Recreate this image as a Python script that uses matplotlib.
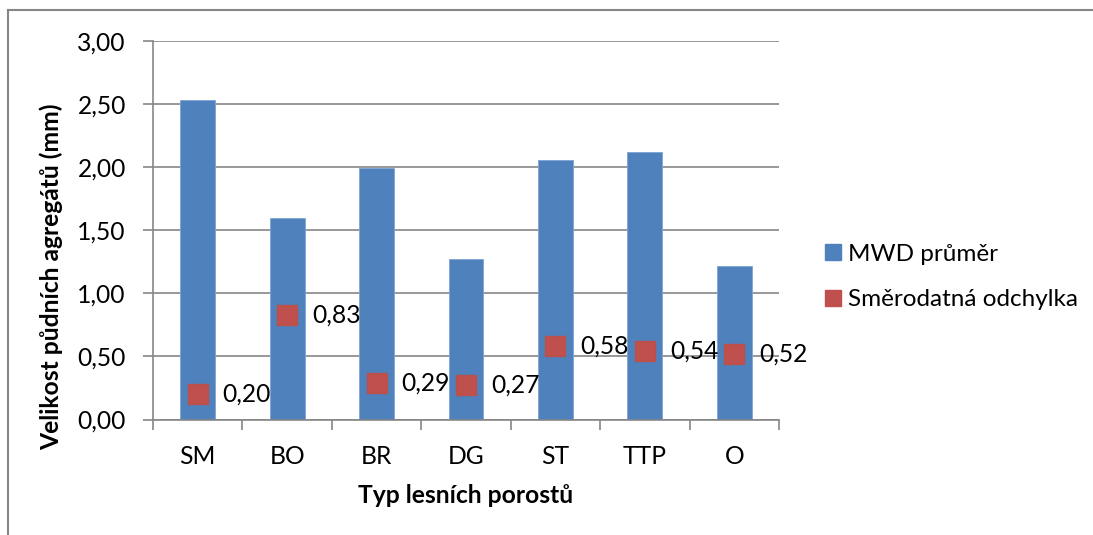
import matplotlib
matplotlib.use("Agg")
import matplotlib.pyplot as plt
from matplotlib.lines import Line2D

plt.rcParams['font.family'] = ['Lato', 'DejaVu Sans']

kategorie = ['SM', 'BO', 'BR', 'DG', 'ST', 'TTP', 'O']
mwd_prumer = [2.53, 1.60, 1.99, 1.27, 2.06, 2.12, 1.22]
smer_odchylka = [0.20, 0.83, 0.29, 0.27, 0.58, 0.54, 0.52]
yticky = [0.0, 0.5, 1.0, 1.5, 2.0, 2.5, 3.0]

modra = '#4F81BD'
cervena = '#C0504D'
seda = '#868686'
fs = 17.7

fig = plt.figure(figsize=(10.93, 5.35), dpi=100)
ax = fig.add_axes([153 / 1093, 1 - 419.5 / 535, 626 / 1093, 378.5 / 535])

x = list(range(len(kategorie)))
ax.bar(x, mwd_prumer, width=0.39, color=modra, edgecolor='#7FA3D3',
       linewidth=0.6, zorder=2, label='MWD průměr')
ax.plot(x, smer_odchylka, linestyle='none', marker='s', markersize=14.5,
        color=cervena, mec='#B8504C', zorder=3, label='Směrodatná odchylka')

# popisky hodnot vpravo od bodů
for xi, v in zip(x, smer_odchylka):
    ax.annotate(('%.2f' % v).replace('.', ','), (xi, v), xytext=(18, 0),
                textcoords='offset points', ha='left', va='center',
                fontsize=fs, zorder=4)

ax.set_xlim(-0.5, len(kategorie) - 0.5)
ax.set_ylim(0, 3)
ax.set_yticks(yticky)
ax.set_yticklabels([('%.2f' % t).replace('.', ',') for t in yticky])
ax.yaxis.grid(True, color=seda, linewidth=1.2, zorder=0)
ax.set_axisbelow(True)

# ticky mezi kategoriemi, popisky uprostřed
ax.set_xticks([i + 0.5 for i in range(-1, len(kategorie))])
ax.set_xticklabels([])
ax.set_xticks(x, minor=True)
ax.set_xticklabels(kategorie, minor=True)
ax.tick_params(axis='x', which='minor', length=0, pad=18, labelsize=fs)
ax.tick_params(axis='x', which='major', length=7.5, width=1.2, color=seda,
               direction='out')
ax.tick_params(axis='y', length=7.5, width=1.2, color=seda, pad=12,
               labelsize=fs)

for s in ['top', 'right']:
    ax.spines[s].set_visible(False)
for s in ['left', 'bottom']:
    ax.spines[s].set_color(seda)
    ax.spines[s].set_linewidth(1.2)

ax.set_xlabel('Typ lesních porostů', fontsize=fs, fontweight='bold', labelpad=12)
fig.text(51 / 1093, 1 - 277 / 535, 'Velikost půdních agregátů (mm)',
         rotation=90, ha='center', va='center', fontsize=fs, fontweight='bold')

handles = [Line2D([], [], linestyle='none', marker='s', markersize=11.5,
                  color=modra),
           Line2D([], [], linestyle='none', marker='s', markersize=11.5,
                  color=cervena)]
fig.legend(handles, ['MWD průměr', 'Směrodatná odchylka'],
           loc='center left', bbox_to_anchor=(812 / 1093, 1 - 277 / 535),
           frameon=False, fontsize=17.5, handlelength=0.7, handletextpad=0.3,
           labelspacing=1.0, borderpad=0)

# rámeček grafu
fig.add_artist(Line2D([8 / 1093, 8 / 1093], [0, 1 - 10 / 535],
                      transform=fig.transFigure, color=seda, linewidth=1.5))
fig.add_artist(Line2D([8 / 1093, 1], [1 - 10 / 535, 1 - 10 / 535],
                      transform=fig.transFigure, color=seda, linewidth=1.5))

fig.savefig('out.png', dpi=100)
